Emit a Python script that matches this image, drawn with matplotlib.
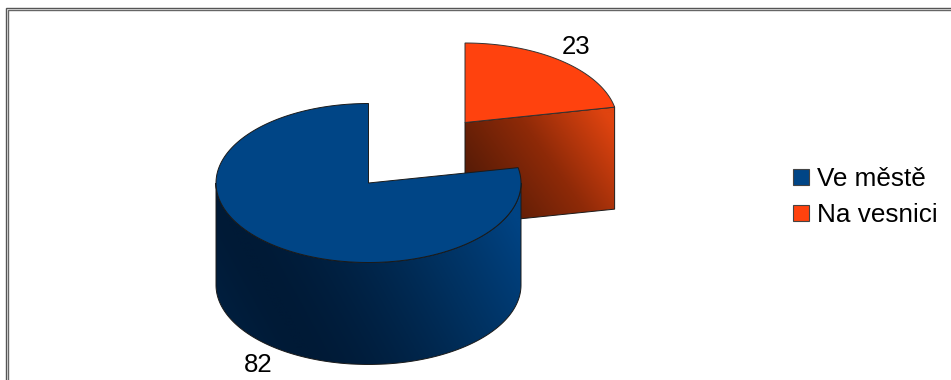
import numpy as np
import matplotlib
matplotlib.use('Agg')
import matplotlib.pyplot as plt
from matplotlib.colors import LinearSegmentedColormap
from matplotlib.patches import Polygon, Rectangle

plt.rcParams['font.family'] = ['Liberation Sans', 'DejaVu Sans']

categories = ['Ve městě', 'Na vesnici']
values = [82, 23]
colors = ['#004586', '#ff420e']

W, H = 951, 380
RX, RY = 152.5, 79.5
DEPTH = 102
CENTER_BLUE = (368.5, 183)
CENTER_RED = (465, 122.5)

fig = plt.figure(figsize=(W / 100, H / 100), dpi=100)
ax = fig.add_axes([0, 0, 1, 1])
ax.set_xlim(0, W)
ax.set_ylim(H, 0)
ax.axis('off')


def arc(center, a0, a1, dy=0, n=200):
    t = np.radians(np.linspace(a0, a1, n))
    return np.column_stack([center[0] + RX * np.cos(t), center[1] + dy - RY * np.sin(t)])


# gradient fill of a polygon, clipped to it
def shade(pts, cmap, func, z):
    x0, y0 = pts.min(axis=0)
    x1, y1 = pts.max(axis=0)
    xx, yy = np.meshgrid(np.linspace(x0, x1, 300), np.linspace(y0, y1, 300))
    im = ax.imshow(func(xx, yy), cmap=cmap, vmin=0, vmax=1, extent=[x0, x1, y1, y0],
                   aspect='auto', zorder=z, interpolation='bilinear')
    poly = Polygon(pts, closed=True, fc='none', ec='#1a1a1a', lw=0.7, zorder=z + 0.5)
    ax.add_patch(poly)
    im.set_clip_path(poly)
    ax.set_xlim(0, W)
    ax.set_ylim(H, 0)


def blue_shade(x, y):
    s = x - 0.55 * y - 110
    return np.clip(np.where(s < 0, (-s / 260) ** 1.5, (np.abs(s) / 285) ** 1.5), 0, 1)


def red_shade(x, y):
    return np.clip((x - 465) / 150 * 0.85 - (y - 165) / 250, 0, 1)


# frame, only top and left are in the picture
for off, c in ((5.5, '#555555'), (7.5, '#666666')):
    ax.plot([off, off, W], [H, off + 2, off + 2], color=c, lw=1, zorder=0, solid_joinstyle='miter')

# slice angles from the values, first slice starts at 12 o'clock going counter clockwise
total = sum(values)
split = (90 + 360 * values[0] / total) % 360

# red slice, pulled out
red_cmap = LinearSegmentedColormap.from_list('r', ['#5a1c06', '#8f2a08', '#e04410'])
rim = arc(CENTER_RED, split, split, n=1)[0]
face = np.array([CENTER_RED, rim, [rim[0], rim[1] + DEPTH], [CENTER_RED[0], CENTER_RED[1] + DEPTH]])
shade(face, red_cmap, red_shade, 2)
ax.add_patch(Polygon(np.vstack([[CENTER_RED], arc(CENTER_RED, split, 90)]), closed=True,
                     fc=colors[1], ec='#333333', lw=0.7, zorder=3))

# blue slice
blue_cmap = LinearSegmentedColormap.from_list('b', ['#001a36', '#00305e', '#004383'])
top_side = arc(CENTER_BLUE, 180, 360)
bottom_side = arc(CENTER_BLUE, 360, 180, dy=DEPTH)
shade(np.vstack([top_side, bottom_side]), blue_cmap, blue_shade, 4)
ax.add_patch(Polygon(np.vstack([[CENTER_BLUE], arc(CENTER_BLUE, 90, 360 + split)]), closed=True,
                     fc=colors[0], ec='#1a1a1a', lw=0.7, zorder=5))

# value labels
ax.text(576, 45, str(values[1]), fontsize=18.5, ha='center', va='center_baseline', zorder=6)
ax.text(258.5, 362, str(values[0]), fontsize=18.5, ha='center', va='center_baseline', zorder=6)

# legend
for i, (name, c) in enumerate(zip(categories, colors)):
    y = 176.5 + 36 * i
    ax.add_patch(Rectangle((792.5, y - 8), 16, 16, fc=c, ec='#444444', lw=0.8, zorder=6))
    ax.text(817, y + 0.5, name, fontsize=18.8, ha='left', va='center_baseline', zorder=6)

fig.savefig('out.png', dpi=100)
